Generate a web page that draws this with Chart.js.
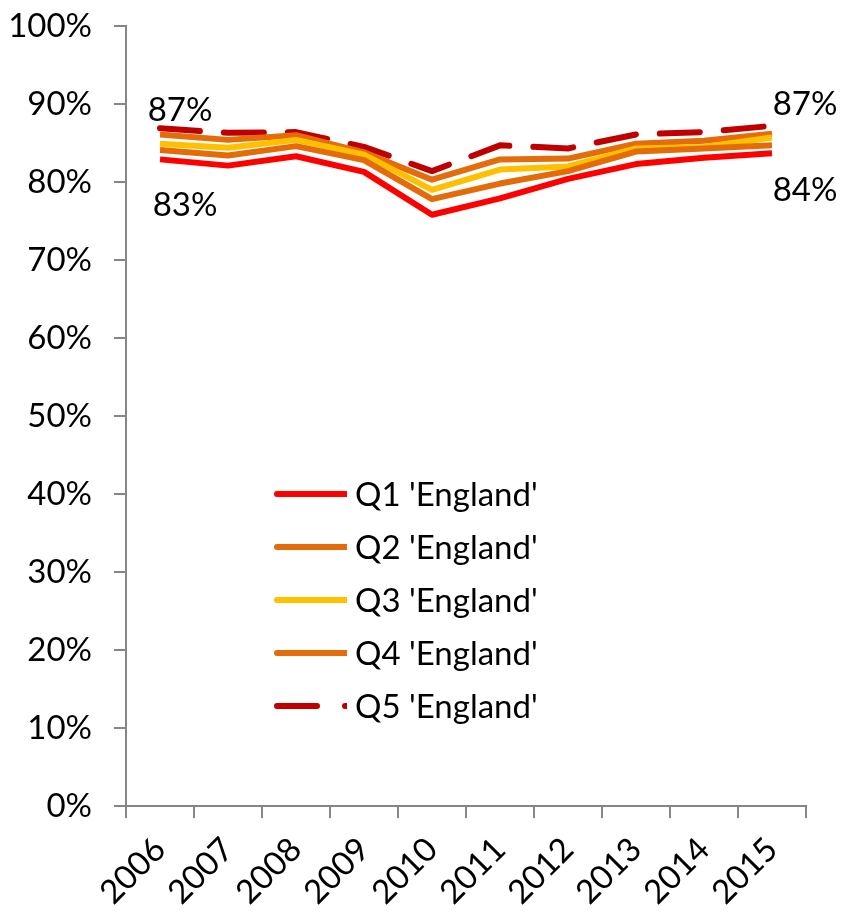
<!DOCTYPE html>
<html>
<head>
<meta charset="utf-8">
<script src="https://cdn.jsdelivr.net/npm/chart.js@4.4.0/dist/chart.umd.min.js"></script>
<style>
  html, body { margin: 0; padding: 0; background: #fff; }
  #wrap { width: 841px; height: 916px; position: relative; }
</style>
</head>
<body>
<div id="wrap"><canvas id="chart"></canvas></div>
<script>
// data (percent)
const years = ['2006', '2007', '2008', '2009', '2010', '2011', '2012', '2013', '2014', '2015'];
const q1 = [82.9, 82.1, 83.3, 81.3, 75.8, 77.9, 80.4, 82.3, 83.1, 83.7];
const q2 = [84.1, 83.4, 84.6, 82.8, 77.8, 79.8, 81.4, 83.9, 84.3, 84.7];
const q3 = [84.9, 84.4, 85.4, 83.5, 79.0, 81.6, 82.0, 84.3, 84.5, 85.7];
const q4 = [86.1, 85.4, 86.0, 83.8, 80.3, 82.9, 83.0, 84.9, 85.3, 86.2];
const q5 = [86.9, 86.3, 86.4, 84.5, 81.4, 84.7, 84.3, 86.1, 86.4, 87.2];
const seriesNames = ["Q1 'England'", "Q2 'England'", "Q3 'England'", "Q4 'England'", "Q5 'England'"];
const yTicks = [0, 10, 20, 30, 40, 50, 60, 70, 80, 90, 100];

const FONT = 'Lato, "Open Sans", sans-serif';
const axisGrey = '#868686';

function line(label, data, color, dash) {
  return {
    label: label,
    data: data,
    borderColor: color,
    backgroundColor: color,
    borderWidth: 6,
    borderDash: dash || [],
    borderCapStyle: dash ? 'round' : 'butt',
    borderJoinStyle: 'round',
    pointRadius: 0,
    tension: 0,
    fill: false
  };
}

// draws the in-plot legend and the end-point labels
const extras = {
  id: 'extras',
  afterDatasetsDraw(chart) {
    const ctx = chart.ctx;
    const xs = chart.scales.x, ys = chart.scales.y;
    ctx.save();
    ctx.font = '33px ' + FONT;
    ctx.fillStyle = '#000';
    ctx.textAlign = 'center';
    ctx.textBaseline = 'middle';
    const last = years.length - 1;
    ctx.fillText(Math.round(q5[0]) + '%', xs.getPixelForValue(0) + 20, ys.getPixelForValue(q5[0]) - 18);
    ctx.fillText(Math.round(q1[0]) + '%', xs.getPixelForValue(0) + 25, ys.getPixelForValue(q1[0]) + 46);
    ctx.fillText(Math.round(q5[last]) + '%', xs.getPixelForValue(last) + 33, ys.getPixelForValue(q5[last]) - 21);
    ctx.fillText(Math.round(q1[last]) + '%', xs.getPixelForValue(last) + 33, ys.getPixelForValue(q1[last]) + 37);

    // legend
    const lx = chart.chartArea.left + 151, ly = 494, row = 53;
    chart.data.datasets.forEach((ds, i) => {
      const y = ly + i * row;
      ctx.save();
      ctx.beginPath();
      ctx.rect(lx - 4, y - 10, 74, 20);
      ctx.clip();
      ctx.strokeStyle = ds.borderColor;
      ctx.lineWidth = 6;
      ctx.lineCap = 'round';
      ctx.setLineDash(ds.borderDash.length ? [40, 28] : []);
      ctx.beginPath();
      ctx.moveTo(lx, y);
      ctx.lineTo(lx + 70, y);
      ctx.stroke();
      ctx.restore();
      ctx.textAlign = 'left';
      ctx.fillText(ds.label, lx + 78, y + 1);
    });
    ctx.restore();
  }
};

new Chart(document.getElementById('chart'), {
  type: 'line',
  data: {
    labels: years,
    datasets: [
      line(seriesNames[0], q1, '#FF0000'),
      line(seriesNames[1], q2, '#E36C09'),
      line(seriesNames[2], q3, '#FFC000'),
      line(seriesNames[3], q4, '#E46C0A'),
      line(seriesNames[4], q5, '#C00000', [40, 24])
    ]
  },
  options: {
    responsive: true,
    maintainAspectRatio: false,
    animation: false,
    layout: { padding: { top: 26, right: 35, left: 0, bottom: 0 } },
    plugins: { legend: { display: false }, tooltip: { enabled: false } },
    scales: {
      x: {
        offset: true,
        grid: { offset: true, drawOnChartArea: false, drawTicks: true, tickLength: 12, color: axisGrey, lineWidth: 2 },
        border: { color: axisGrey, width: 2 },
        ticks: { color: '#000', font: { family: FONT, size: 33 }, minRotation: 45, maxRotation: 45, padding: 12 },
        afterFit(scale) {
          scale.height = 110;
          scale.paddingLeft = 0; scale.paddingRight = 0; scale.paddingTop = 0; scale.paddingBottom = 0;
        }
      },
      y: {
        min: 0,
        max: 100,
        afterBuildTicks(scale) { scale.ticks = yTicks.map(v => ({ value: v })); },
        grid: { drawOnChartArea: false, drawTicks: true, tickLength: 12, color: axisGrey, lineWidth: 2 },
        border: { color: axisGrey, width: 2 },
        ticks: { color: '#000', font: { family: FONT, size: 33 }, padding: 22, callback: v => v + '%' },
        afterFit(scale) {
          scale.width = 126;
          scale.paddingLeft = 0; scale.paddingRight = 0; scale.paddingTop = 0; scale.paddingBottom = 0;
        }
      }
    }
  },
  plugins: [extras]
});
</script>
</body>
</html>
